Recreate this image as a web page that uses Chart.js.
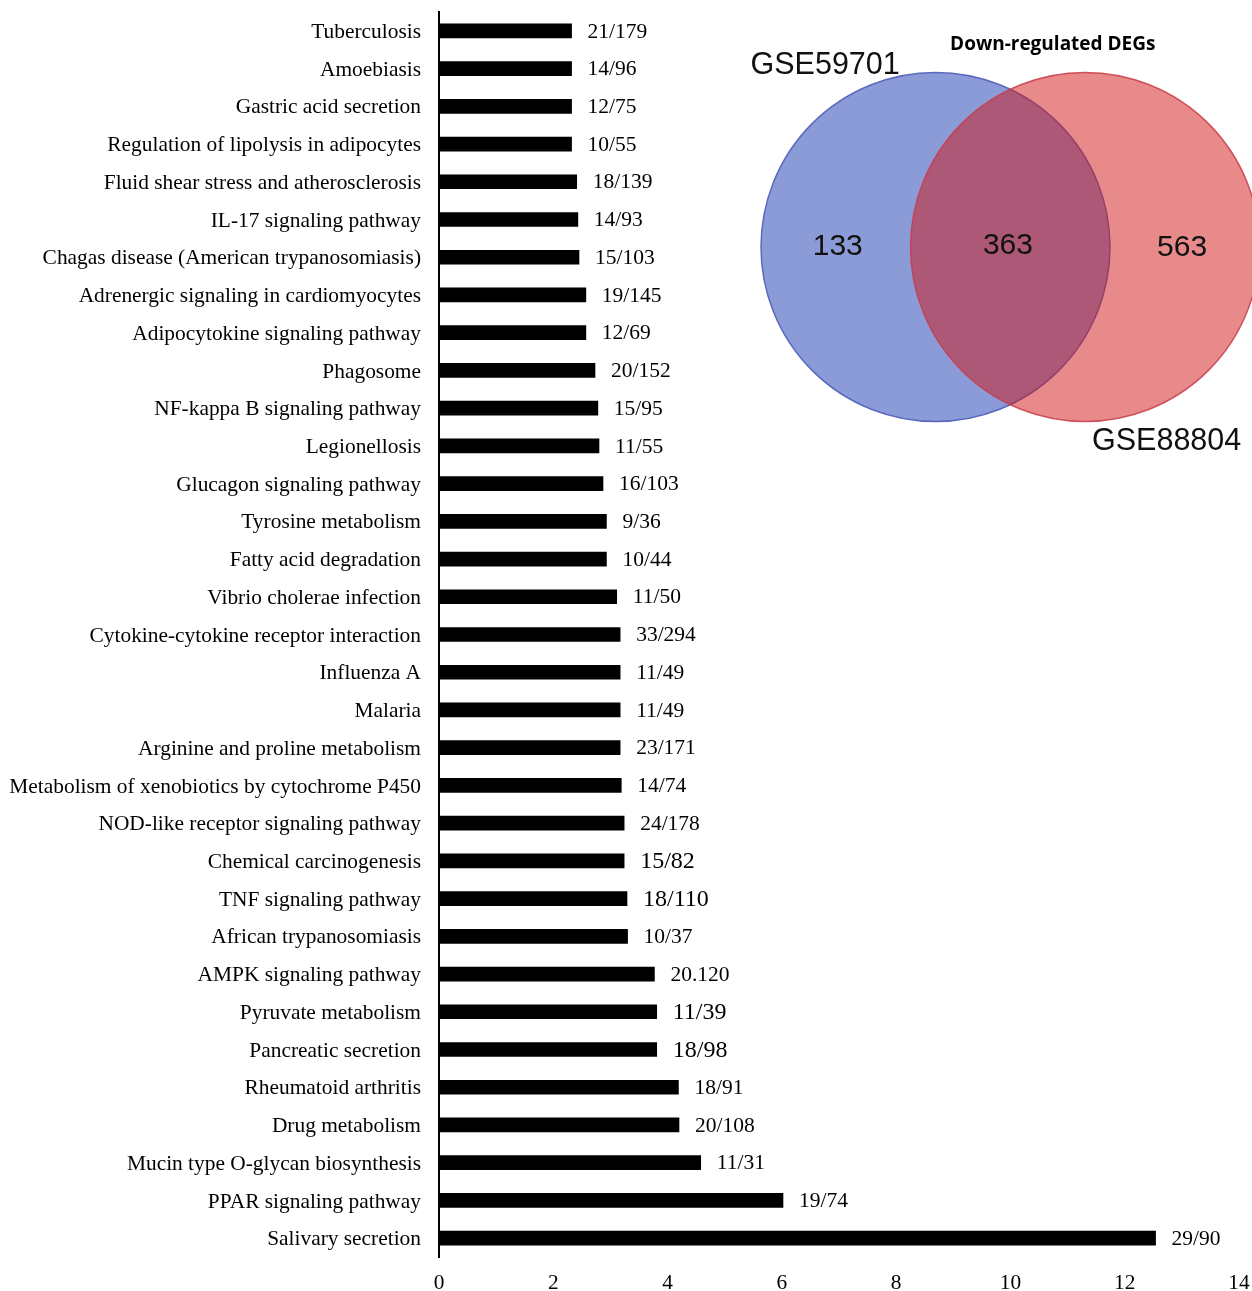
<!DOCTYPE html>
<html>
<head>
<meta charset="utf-8">
<script src="https://cdn.jsdelivr.net/npm/chart.js@4/dist/chart.umd.min.js"></script>
<style>
  html, body { margin: 0; padding: 0; background: #ffffff; }
  #wrap { position: relative; width: 1252px; height: 1291px; overflow: hidden; }
  #bars { position: absolute; left: 0; top: 0; }
  #venn { position: absolute; left: 740px; top: 0; }
</style>
</head>
<body>
<div id="wrap">
  <canvas id="bars" width="1252" height="1291"></canvas>
  <canvas id="venn" width="512" height="470"></canvas>
</div>
<script>
// ---------- KEGG pathway data (top to bottom) ----------
const categories = [
  "Tuberculosis",
  "Amoebiasis",
  "Gastric acid secretion",
  "Regulation of lipolysis in adipocytes",
  "Fluid shear stress and atherosclerosis",
  "IL-17 signaling pathway",
  "Chagas disease (American trypanosomiasis)",
  "Adrenergic signaling in cardiomyocytes",
  "Adipocytokine signaling pathway",
  "Phagosome",
  "NF-kappa B signaling pathway",
  "Legionellosis",
  "Glucagon signaling pathway",
  "Tyrosine metabolism",
  "Fatty acid degradation",
  "Vibrio cholerae infection",
  "Cytokine-cytokine receptor interaction",
  "Influenza A",
  "Malaria",
  "Arginine and proline metabolism",
  "Metabolism of xenobiotics by cytochrome P450",
  "NOD-like receptor signaling pathway",
  "Chemical carcinogenesis",
  "TNF signaling pathway",
  "African trypanosomiasis",
  "AMPK signaling pathway",
  "Pyruvate metabolism",
  "Pancreatic secretion",
  "Rheumatoid arthritis",
  "Drug metabolism",
  "Mucin type O-glycan biosynthesis",
  "PPAR signaling pathway",
  "Salivary secretion"
];
const values = [
  2.32, 2.32, 2.32, 2.32, 2.41, 2.43, 2.45, 2.57, 2.57, 2.73,
  2.78, 2.80, 2.87, 2.93, 2.93, 3.11, 3.17, 3.17, 3.17, 3.17,
  3.19, 3.24, 3.24, 3.29, 3.30, 3.77, 3.81, 3.81, 4.19, 4.20,
  4.58, 6.02, 12.54
];
const ratioLabels = [
  "21/179", "14/96", "12/75", "10/55", "18/139", "14/93", "15/103", "19/145", "12/69", "20/152",
  "15/95", "11/55", "16/103", "9/36", "10/44", "11/50", "33/294", "11/49", "11/49", "23/171",
  "14/74", "24/178", "15/82", "18/110", "10/37", "20.120", "11/39", "18/98", "18/91", "20/108",
  "11/31", "19/74", "29/90"
];
const xMin = 0;
const xMax = 14;
const xStep = 2;

// ---------- Venn data ----------
const vennTitle = "Down-regulated DEGs";
const vennSetNames = ["GSE59701", "GSE88804"];
const vennCounts = [133, 363, 563]; // only-A, both, only-B

// ---------- Bar chart ----------
const serif = "'Liberation Serif', 'Times New Roman', serif";
const largeLabels = new Set(["15/82", "18/110", "11/39", "18/98"]);

const valueLabelPlugin = {
  id: 'valueLabels',
  afterDatasetsDraw(chart) {
    const ctx = chart.ctx;
    const meta = chart.getDatasetMeta(0);
    ctx.save();
    ctx.fillStyle = '#000';
    ctx.textAlign = 'left';
    ctx.textBaseline = 'middle';
    meta.data.forEach((bar, i) => {
      const txt = ratioLabels[i];
      const big = largeLabels.has(txt);
      ctx.font = (big ? 24 : 21.5) + 'px ' + serif;
      ctx.fillText(txt, bar.x + 16, bar.y + 1);
    });
    ctx.restore();
  }
};

new Chart(document.getElementById('bars'), {
  type: 'bar',
  data: {
    labels: categories,
    datasets: [{
      data: values,
      backgroundColor: '#000000',
      borderWidth: 0,
      barThickness: 14
    }]
  },
  options: {
    indexAxis: 'y',
    responsive: false,
    animation: false,
    events: [],
    layout: { padding: { top: 12, right: 13, bottom: 0, left: 0 } },
    plugins: { legend: { display: false }, tooltip: { enabled: false } },
    scales: {
      x: {
        min: xMin, max: xMax,
        ticks: { stepSize: xStep, color: '#000', font: { family: serif, size: 21.4 }, padding: 14, maxRotation: 0 },
        grid: { display: false, drawTicks: false },
        border: { display: false },
        afterFit(scale) {
          scale.height = 34;
          scale.paddingLeft = 0; scale.paddingRight = 0;
        }
      },
      y: {
        ticks: { color: '#000', font: { family: serif, size: 21.4 }, padding: 18, autoSkip: false, labelOffset: 1.5 },
        grid: { display: false, drawTicks: false },
        border: { display: true, color: '#000', width: 2 },
        afterFit(scale) {
          scale.width = 439;
          scale.paddingTop = 0; scale.paddingBottom = 0;
        }
      }
    }
  },
  plugins: [valueLabelPlugin]
});

// ---------- Venn diagram (scatter points, radius = 1 axis unit) ----------
const sans = "'Liberation Sans', Arial, sans-serif";
const unitPx = 174.5;           // pixels per venn unit (x and y equal)
const vennW = 512, vennH = 470;
const cxA = 195.5, cy = 247;    // pixel centre of set A inside venn canvas
function unitRadius(c) {
  const s = c.chart.scales && c.chart.scales.x;
  if (!s) return unitPx;
  const r = Math.abs(s.getPixelForValue(1) - s.getPixelForValue(0));
  return (isFinite(r) && r > 0) ? r : unitPx;
}
const vennTextPlugin = {
  id: 'vennText',
  afterDatasetsDraw(chart) {
    const ctx = chart.ctx;
    const xs = chart.scales.x, ys = chart.scales.y;
    const X = v => xs.getPixelForValue(v), Y = v => ys.getPixelForValue(v);
    ctx.save();
    ctx.fillStyle = '#111';
    ctx.textBaseline = 'middle';
    ctx.textAlign = 'center';
    ctx.font = '30px ' + sans;
    ctx.fillText(String(vennCounts[0]), X(-0.56), Y(0.0));
    ctx.fillText(String(vennCounts[1]), X(0.415), Y(0.005));
    ctx.fillText(String(vennCounts[2]), X(1.413), Y(-0.005));
    ctx.textBaseline = 'alphabetic';
    ctx.textAlign = 'left';
    ctx.font = '30.5px ' + sans;
    ctx.fillText(vennSetNames[0], X(-1.06), Y(0.99));
    ctx.fillText(vennSetNames[1], X(0.897), Y(-1.164));
    ctx.textAlign = 'center';
    ctx.font = 'bold 19px "Open Sans", sans-serif';
    ctx.fillStyle = '#000';
    ctx.fillText(vennTitle, X(0.672), Y(1.13));
    ctx.restore();
  }
};

new Chart(document.getElementById('venn'), {
  type: 'scatter',
  data: {
    datasets: [
      {
        label: vennSetNames[1],
        data: [{ x: 0.857, y: 0 }],
        pointBackgroundColor: 'rgba(209, 22, 22, 0.5)',
        pointBorderColor: 'rgba(200, 60, 75, 0.85)',
        pointBorderWidth: 1.5,
        pointRadius: unitRadius,
        clip: false,
        order: 1
      },
      {
        label: vennSetNames[0],
        data: [{ x: 0, y: 0 }],
        pointBackgroundColor: 'rgb(139, 155, 216)',
        pointBorderColor: 'rgb(90, 105, 190)',
        pointBorderWidth: 1.5,
        pointRadius: unitRadius,
        clip: false,
        order: 2
      }
    ]
  },
  options: {
    responsive: false,
    animation: false,
    events: [],
    layout: { padding: 0, autoPadding: false },
    plugins: { legend: { display: false }, tooltip: { enabled: false } },
    scales: {
      x: { display: false, min: -cxA / unitPx, max: (vennW - cxA) / unitPx },
      y: { display: false, min: -(vennH - cy) / unitPx, max: cy / unitPx }
    }
  },
  plugins: [vennTextPlugin]
});
</script>
</body>
</html>
